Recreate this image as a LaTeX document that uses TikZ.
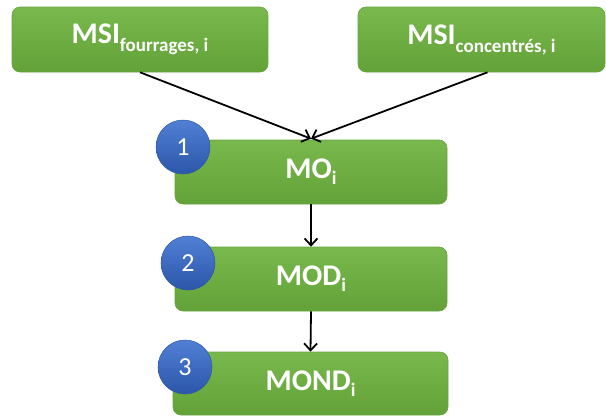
\documentclass[tikz,border=0pt]{standalone}
\usepackage{fontspec}
\setmainfont{Carlito}
\usetikzlibrary{arrows.meta}
\definecolor{gtop}{RGB}{120,184,76}
\definecolor{gbot}{RGB}{98,162,56}
\definecolor{gedge}{RGB}{104,165,62}
\definecolor{btop}{RGB}{80,128,212}
\definecolor{bbot}{RGB}{44,86,170}
\tikzset{
  gbox/.style={rectangle, rounded corners=8pt, top color=gtop, bottom color=gbot, draw=gedge, line width=0.6pt,
    text=white, font=\fontsize{30}{32}\selectfont\bfseries, inner sep=0pt},
  numc/.style={circle, minimum size=54pt, inner sep=0pt, top color=btop, bottom color=bbot, draw=bbot, line width=0.5pt,
    text=white, font=\fontsize{26}{28}\selectfont},
  conn/.style={draw=black, line width=1.8pt, -{Straight Barb[length=7pt,width=13pt,line width=1.8pt]}}
}
\newcommand{\subt}[2]{\raisebox{-#1}{\fontsize{19}{21}\selectfont #2}}
\begin{document}
\begin{tikzpicture}[x=1pt,y=-1pt]
\useasboundingbox (0,0) rectangle (606,416);
\node[gbox, minimum width=256pt, minimum height=65pt] (A) at (140,39.5) {MSI\subt{8pt}{fourrages, i}};
\node[gbox, minimum width=247pt, minimum height=65pt] (B) at (481.5,39.5) {MSI\subt{8pt}{concentrés, i}};
\node[gbox, minimum width=272pt, minimum height=64pt] (MO) at (311,172) {MO\subt{6pt}{i}};
\node[gbox, minimum width=272pt, minimum height=64pt] (MOD) at (311,279) {MOD\subt{6pt}{i}};
\node[gbox, minimum width=275pt, minimum height=63pt] (MOND) at (310.5,383.5) {MOND\subt{6pt}{i}};
\node[numc] (c1) at (183,147) {1};
\node[numc] (c2) at (188,263) {2};
\node[numc] (c3) at (185,367) {3};
\coordinate (bs) at ([xshift=6pt]B.south);
\draw[conn] (A.south) -- ([yshift=1pt]MO.north);
\draw[conn] (bs) -- ([yshift=1pt]MO.north);
\draw[conn] (MO.south) -- (MOD.north);
\draw[conn] (MOD.south) -- (MOND.north);
\end{tikzpicture}
\end{document}
